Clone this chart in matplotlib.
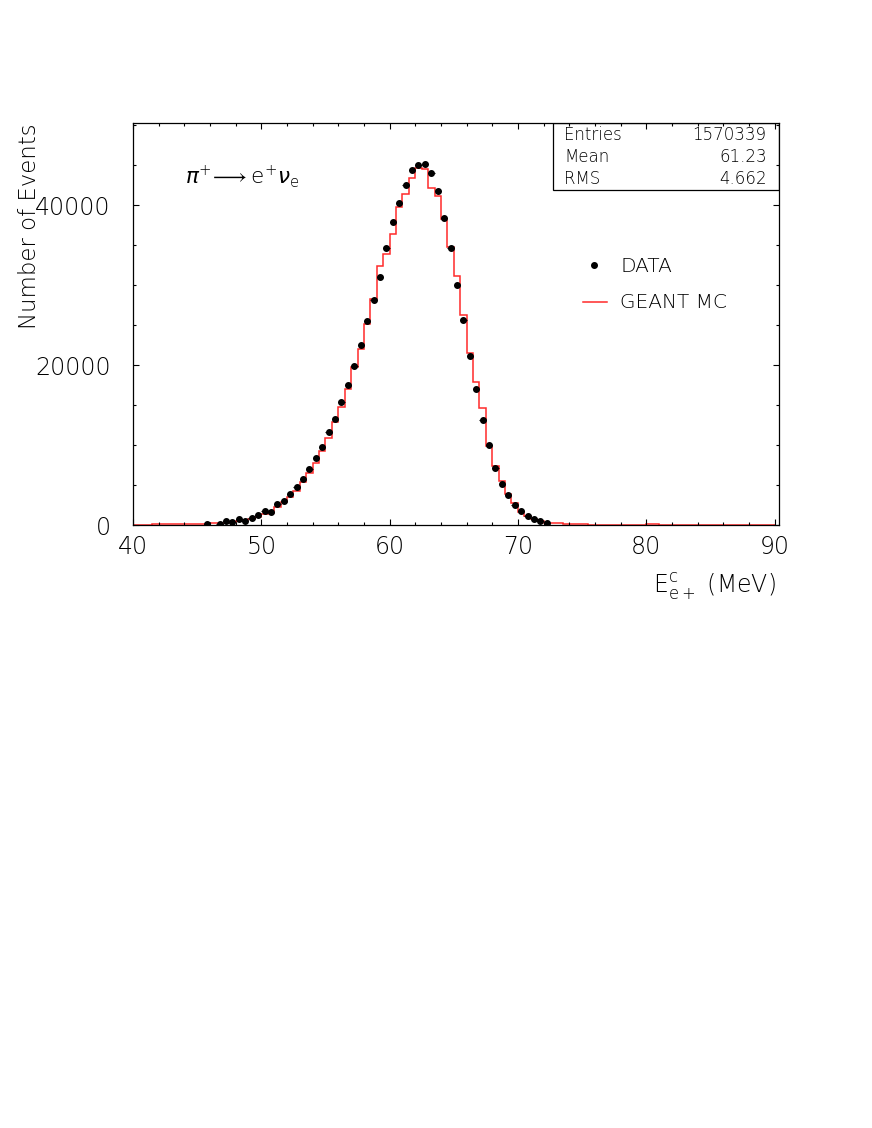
import numpy as np
import matplotlib
matplotlib.use("Agg")
import matplotlib.pyplot as plt
from matplotlib.patches import Rectangle
from matplotlib.ticker import MultipleLocator

plt.rcParams['font.family'] = ['DejaVu Sans']
plt.rcParams['font.weight'] = 'light'
plt.rcParams['mathtext.fontset'] = 'dejavusans'

# ---- data ----
bin_lo, bin_hi, bin_w = 40.0, 90.0, 0.5

data_centers = [45.75, 46.75, 47.25, 47.75, 48.25, 48.75, 49.25, 49.75,
                50.25, 50.75, 51.25, 51.75, 52.25, 52.75, 53.25, 53.75,
                54.25, 54.75, 55.25, 55.75, 56.25, 56.75, 57.25, 57.75,
                58.25, 58.75, 59.25, 59.75, 60.25, 60.75, 61.25, 61.75,
                62.25, 62.75, 63.25, 63.75, 64.25, 64.75, 65.25, 65.75,
                66.25, 66.75, 67.25, 67.75, 68.25, 68.75, 69.25, 69.75,
                70.25, 70.75, 71.25, 71.75, 72.25]
data_counts = [150, 150, 480, 450, 800, 480, 900, 1330,
               1830, 1660, 2700, 3060, 3880, 4820, 5830, 7100,
               8420, 9830, 11620, 13330, 15400, 17580, 19920, 22560,
               25540, 28210, 31040, 34625, 37875, 40250, 42540, 44420,
               45000, 45210, 44040, 41830, 38375, 34670, 30040, 25625,
               21150, 16980, 13180, 10000, 7160, 5200, 3810, 2580,
               1740, 1200, 770, 600, 350]

mc_counts = [0, 0, 0, 120, 130, 120, 140, 150, 150, 170,
             180, 200, 230, 270, 330, 420, 520, 640, 800, 1000,
             1400, 1500, 2350, 2900, 3550, 4350, 5400, 6600, 7800, 9300,
             10900, 12900, 14800, 17100, 19800, 22000, 25125, 28290, 32375, 33875,
             36375, 39830, 41375, 43410, 44620, 44500, 42200, 41160, 38330, 34830,
             31125, 26290, 21500, 17950, 14700, 9950, 7410, 5540, 3950, 2750,
             1700, 1160, 750, 500, 330, 250, 250, 180, 150, 120,
             110, 100, 90, 80, 80, 70, 70, 60, 70, 80,
             150, 130, 70, 60, 50, 50, 60, 50, 40, 50,
             40, 40, 50, 40, 40, 40, 30, 40, 30, 30]

stats_labels = ["Entries", "Mean", "RMS"]
stats_values = ["1570339", "61.23", "4.662"]

x_ticks = [40, 50, 60, 70, 80, 90]
y_ticks = [0, 20000, 40000]

# ---- figure ----
fig = plt.figure(figsize=(8.72, 11.28), dpi=100)
ax = fig.add_axes([133/872, 1-525.3/1128, (779-133)/872, (525.3-123)/1128])

edges = np.linspace(bin_lo, bin_hi, len(mc_counts) + 1)
ax.stairs(mc_counts, edges, color='#ff2a2a', lw=1.1, baseline=None)

ax.errorbar(data_centers, data_counts, xerr=bin_w/2, fmt='o', color='black',
            ms=4.0, elinewidth=0.8, capsize=0, zorder=5)

ax.set_xlim(40, 90.35)
ax.set_ylim(0, 50300)
ax.set_xticks(x_ticks)
ax.set_yticks(y_ticks)
ax.set_yticklabels([str(v) for v in y_ticks])
ax.xaxis.set_minor_locator(MultipleLocator(2))
ax.yaxis.set_minor_locator(MultipleLocator(5000))
ax.tick_params(which='both', direction='in', top=True, right=True, width=0.8)
ax.tick_params(which='major', length=4.3, labelsize=17)
ax.tick_params(which='minor', length=2.2)
ax.tick_params(axis='y', which='major', pad=16)
ax.tick_params(axis='x', which='major', pad=7)
for s in ax.spines.values():
    s.set_linewidth(0.9)

ax.text((30-133)/646, 1.0, "Number of Events", rotation=90, ha='center', va='top',
        fontsize=16.5, transform=ax.transAxes)
ax.text(0.995, (525.3-586)/402.3, r"E$^{\mathrm{c}}_{\mathrm{e+}}$ (MeV)", ha='right',
        va='center', fontsize=17, transform=ax.transAxes)

ax.text(0.0805, 0.866, r"$\pi^{+}\!\longrightarrow \mathrm{e}^{+}\nu_{\mathrm{e}}$", ha='left',
        va='center', fontsize=15.5, transform=ax.transAxes)

# stats box
bx0 = (553-133)/646
by0 = (525.3-189.5)/402.3
ax.add_patch(Rectangle((bx0, by0), 1-bx0, 1-by0, transform=ax.transAxes,
                       fill=False, lw=0.9, ec='black', zorder=6))
row_y = [0.970, 0.9155, 0.860]
for lab, val, yy in zip(stats_labels, stats_values, row_y):
    ax.text(0.667, yy, lab, ha='left', va='center', fontsize=12, transform=ax.transAxes)
    ax.text(0.981, yy, val, ha='right', va='center', fontsize=12, transform=ax.transAxes)

# legend
ax.plot([(594-133)/646], [0.647], 'o', color='black', ms=4.0, transform=ax.transAxes)
ax.text(0.7539, 0.644, "DATA", ha='left', va='center', fontsize=14.5, transform=ax.transAxes)
ax.plot([(583-133)/646, (607-133)/646], [0.555, 0.555], color='#ff2a2a', lw=1.1,
        transform=ax.transAxes)
ax.text(0.7539, 0.555, "GEANT MC", ha='left', va='center', fontsize=14.5, transform=ax.transAxes)

fig.savefig("out.png", dpi=100)
